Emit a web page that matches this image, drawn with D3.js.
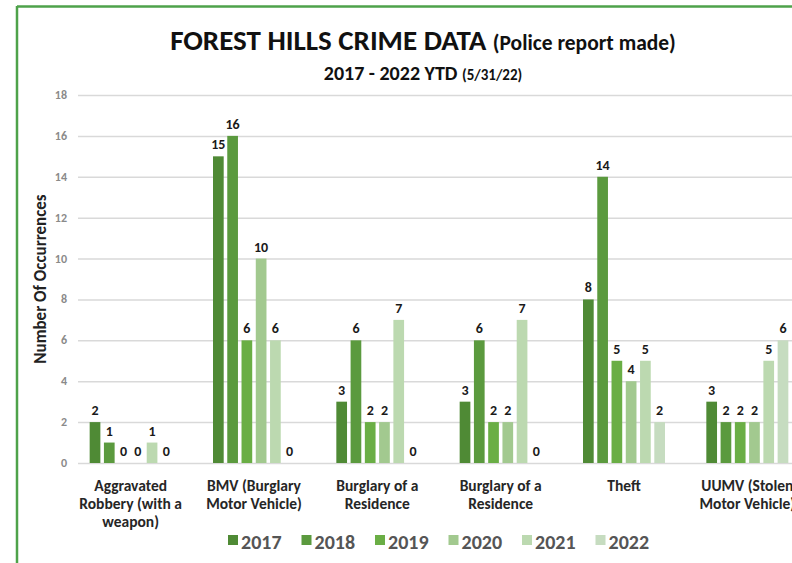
<!DOCTYPE html>
<html>
<head>
<meta charset="utf-8">
<script src="https://cdn.jsdelivr.net/npm/d3@7"></script>
<style>
  body { margin: 0; background: #fff; }
  svg { display: block; font-family: Carlito, Lato, "Open Sans", sans-serif; }
  .grid line { stroke: #d9d9d9; stroke-width: 1.5; }
  .val { font-weight: bold; font-size: 14px; fill: #1a1a1a; text-anchor: middle; }
  .cat { font-weight: bold; font-size: 15.5px; fill: #262626; text-anchor: middle; }
  .tick-lbl { font-weight: bold; font-size: 12px; fill: #8a8a8a; text-anchor: end; }
</style>
</head>
<body>
<div class="chart"></div>
<script>
const WIDTH = 792;
const HEIGHT = 563;

// data
var categories = ["Aggravated Robbery (with a weapon)", "BMV (Burglary Motor Vehicle)",
                  "Burglary of a Residence", "Burglary of a Residence ", "Theft",
                  "UUMV (Stolen Motor Vehicle)"];
var catLines = [["Aggravated", "Robbery (with a", "weapon)"],
                ["BMV (Burglary", "Motor Vehicle)"],
                ["Burglary of a", "Residence"],
                ["Burglary of a", "Residence"],
                ["Theft"],
                ["UUMV (Stolen", "Motor Vehicle)"]];
var years = ["2017", "2018", "2019", "2020", "2021", "2022"];
var v2017 = [2, 15, 3, 3, 8, 3];
var v2018 = [1, 16, 6, 6, 14, 2];
var v2019 = [0, 6, 2, 2, 5, 2];
var v2020 = [0, 10, 2, 2, 4, 2];
var v2021 = [1, 6, 7, 7, 5, 5];
var v2022 = [0, 0, 0, 0, 2, 6];
var yTicks = [0, 2, 4, 6, 8, 10, 12, 14, 16, 18];
var colors = ["#4f8a35", "#5b9a3e", "#6aae45", "#a2c98f", "#bcd9b0", "#c6dcc0"];

var series = [v2017, v2018, v2019, v2020, v2021, v2022];

var svg = d3.select(".chart").append("svg")
    .attr("width", WIDTH)
    .attr("height", HEIGHT);

// green frame (left + top only, the picture is cropped)
svg.append("line").attr("x1", 17).attr("y1", 6.5).attr("x2", WIDTH).attr("y2", 6.5)
    .attr("stroke", "#4ea24a").attr("stroke-width", 2.5);
svg.append("line").attr("x1", 17).attr("y1", 6).attr("x2", 17).attr("y2", HEIGHT)
    .attr("stroke", "#4ea24a").attr("stroke-width", 2.5);

var yScale = d3.scaleLinear().domain([0, 18]).range([463, 95]);
var x0 = d3.scaleBand().domain(categories).range([69, 809]);
var GROUP_W = 82;
var x1 = d3.scaleBand().domain(years).range([0, GROUP_W]).paddingInner(0.25);
var groupLeft = function(c) { return x0(c) + (x0.bandwidth() - GROUP_W) / 2; };

// grid
var yAxis = d3.axisLeft(yScale).tickValues(yTicks).tickSize(-(WIDTH - 78)).tickFormat("");
svg.append("g").attr("class", "grid")
    .attr("transform", "translate(78,0)")
    .call(yAxis)
    .call(function(g) { g.select(".domain").remove(); });

svg.selectAll(".tick-lbl").data(yTicks).enter().append("text")
    .attr("class", "tick-lbl")
    .attr("x", 67)
    .attr("y", function(d) { return yScale(d) + 4; })
    .text(function(d) { return d; });

// bars
var groups = svg.selectAll(".grp").data(categories).enter().append("g")
    .attr("class", "grp")
    .attr("transform", function(c) { return "translate(" + groupLeft(c) + ",0)"; });

years.forEach(function(y, j) {
  groups.append("rect")
      .attr("x", x1(y))
      .attr("width", x1.bandwidth())
      .attr("y", function(c, i) { return yScale(series[j][i]); })
      .attr("height", function(c, i) { return yScale(0) - yScale(series[j][i]); })
      .attr("fill", colors[j]);
  groups.append("text")
      .attr("class", "val")
      .attr("x", x1(y) + x1.bandwidth() / 2)
      .attr("y", function(c, i) { return yScale(series[j][i]) - 7; })
      .text(function(c, i) { return series[j][i]; });
});

// category labels
groups.each(function(c, i) {
  var t = d3.select(this).append("text").attr("class", "cat");
  catLines[i].forEach(function(line, k) {
    t.append("tspan").attr("x", GROUP_W / 2).attr("y", 491 + k * 18).text(line);
  });
});

// titles
var title = svg.append("text").attr("x", 423).attr("y", 50)
    .attr("text-anchor", "middle").attr("font-weight", "bold").attr("fill", "#111");
title.append("tspan").attr("font-size", "29px").text("FOREST HILLS CRIME DATA ");
title.append("tspan").attr("font-size", "21.5px").text("(Police report made)");

var sub = svg.append("text").attr("x", 423).attr("y", 80)
    .attr("text-anchor", "middle").attr("font-weight", "bold").attr("fill", "#111");
sub.append("tspan").attr("font-size", "20px").text("2017 - 2022 YTD ");
sub.append("tspan").attr("font-size", "15px").text("(5/31/22)");

svg.append("text")
    .attr("transform", "translate(46,279) rotate(-90)")
    .attr("text-anchor", "middle")
    .attr("font-weight", "bold").attr("font-size", "17px").attr("fill", "#222")
    .text("Number Of Occurrences");

// legend
var legend = svg.selectAll(".leg").data(years).enter().append("g")
    .attr("class", "leg")
    .attr("transform", function(d, i) { return "translate(" + (228 + i * 73.5) + ",535)"; });
legend.append("rect").attr("width", 10).attr("height", 10)
    .attr("fill", function(d, i) { return colors[i]; });
legend.append("text").attr("x", 13).attr("y", 14)
    .attr("font-size", "20px").attr("font-weight", "bold").attr("fill", "#555")
    .text(function(d) { return d; });
</script>
</body>
</html>
